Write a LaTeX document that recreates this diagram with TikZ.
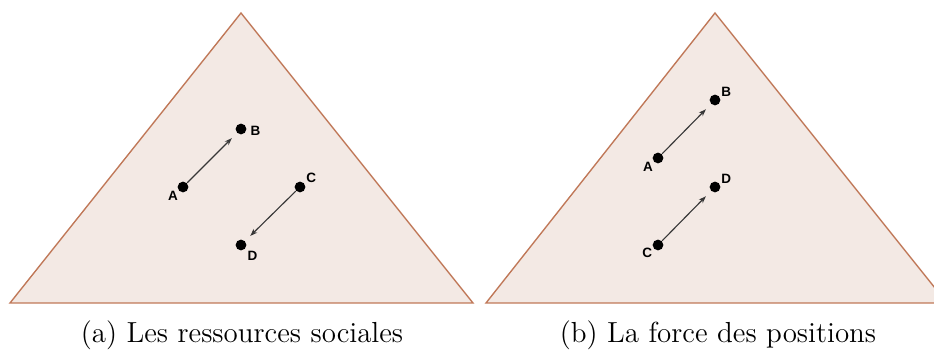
\documentclass[tikz,border=0pt]{standalone}
\usepackage{fontspec}
\newfontfamily\lblfont{Liberation Sans}
\usetikzlibrary{arrows.meta}
\definecolor{trifill}{RGB}{243,233,228}
\definecolor{triedge}{RGB}{192,120,88}
\definecolor{vec}{RGB}{55,55,55}
\tikzset{
  tri/.style={fill=trifill,draw=triedge,line width=0.55pt},
  pt/.style={circle,fill=black,inner sep=0pt,minimum size=4.3pt},
  lbl/.style={font=\lblfont\bfseries\fontsize{5.4}{6}\selectfont,inner sep=0.5pt},
  vecline/.style={draw=vec,line width=0.45pt,-{Stealth[length=3pt,width=2.1pt]},shorten >=2.8pt},
  captext/.style={font=\fontsize{11.6}{13}\selectfont}
}
\begin{document}
\begin{tikzpicture}[x=0.4pt,y=-0.4pt]
\useasboundingbox (0,0) rectangle (934,352);
% left triangle
\draw[tri] (241,13) -- (473,303) -- (10,303) -- cycle;
\begin{scope}
\clip (0,0) rectangle (934,352);
\draw[tri] (715,13) -- (947,303) -- (486,303) -- cycle;
\end{scope}
% left points
\node[pt] (la) at (183,187) {};
\node[pt] (lb) at (241,129) {};
\node[pt] (lc) at (300,187) {};
\node[pt] (ld) at (241,245) {};
\node[lbl,anchor=north east] at ([xshift=0.3pt,yshift=0.6pt]la.south west) {A};
\node[lbl,anchor=west] at ([xshift=0.8pt,yshift=-0.6pt]lb.east) {B};
\node[lbl,anchor=south west] at ([xshift=0.2pt,yshift=-0.6pt]lc.north east) {C};
\node[lbl,anchor=north west] at ([xshift=0.3pt]ld.south east) {D};
\draw[vecline] (la) -- (lb);
\draw[vecline] (lc) -- (ld);
% right points
\node[pt] (ra) at (658,158) {};
\node[pt] (rb) at (715,100) {};
\node[pt] (rd) at (715,187) {};
\node[pt] (rc) at (658,245) {};
\node[lbl,anchor=north east] at ([xshift=0.3pt,yshift=0.6pt]ra.south west) {A};
\node[lbl,anchor=south west] at ([xshift=0.2pt,yshift=-0.8pt]rb.north east) {B};
\node[lbl,anchor=south west] at ([xshift=0.2pt,yshift=-0.8pt]rd.north east) {D};
\node[lbl,anchor=north east] at ([yshift=1pt]rc.south west) {C};
\draw[vecline] (ra) -- (rb);
\draw[vecline] (rc) -- (rd);
% captions
\node[captext] (capa) at (242,335) {(a) Les ressources sociales};
\node[captext] (capb) at (718,335) {(b) La force des positions};
\end{tikzpicture}
\end{document}
